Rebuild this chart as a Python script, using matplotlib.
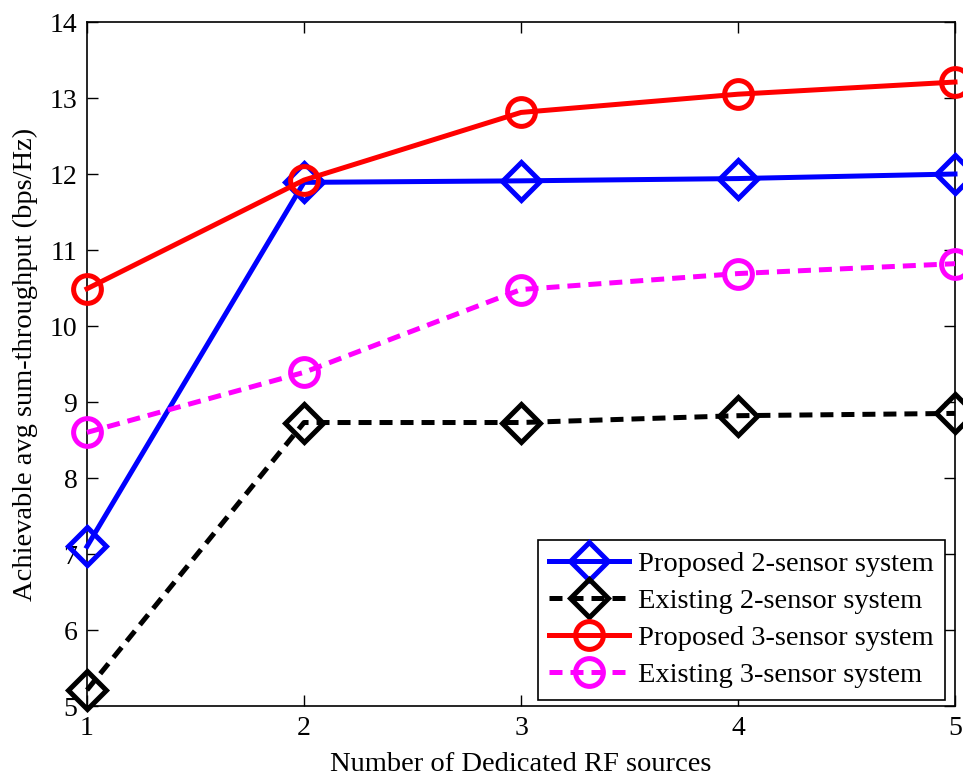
import matplotlib
matplotlib.use("Agg")
import matplotlib.pyplot as plt

plt.rcParams['font.family'] = ['Liberation Serif', 'DejaVu Serif']

x = [1, 2, 3, 4, 5]
proposed_2 = [7.10, 11.89, 11.91, 11.94, 12.00]
existing_2 = [5.21, 8.73, 8.73, 8.82, 8.85]
proposed_3 = [10.49, 11.92, 12.81, 13.05, 13.21]
existing_3 = [8.60, 9.39, 10.48, 10.69, 10.82]

labels = ["Proposed 2-sensor system", "Existing 2-sensor system",
          "Proposed 3-sensor system", "Existing 3-sensor system"]

fig = plt.figure(figsize=(9.63, 7.79), dpi=100)
ax = fig.add_axes([87 / 963, 1 - 706 / 779, (955 - 87) / 963, (706 - 22) / 779])

common = dict(linewidth=3.6, markeredgewidth=3.6, markerfacecolor='none',
              clip_on=False, zorder=3)
dash = (0, (2.6, 1.6))
ax.plot(x, proposed_2, color='#0000ff', marker='D', markersize=19,
        linestyle='-', label=labels[0], **common)
ax.plot(x, existing_2, color='black', marker='D', markersize=19,
        linestyle=dash, label=labels[1], **common)
ax.plot(x, proposed_3, color='#ff0000', marker='o', markersize=20,
        linestyle='-', label=labels[2], **common)
ax.plot(x, existing_3, color='#ff00ff', marker='o', markersize=20,
        linestyle=dash, label=labels[3], **common)

ax.set_xlim(1, 5)
ax.set_ylim(5, 14)
ax.set_xticks(x)
ax.set_yticks(range(5, 15))
ax.tick_params(direction='in', top=True, right=True, length=8, width=1,
               labelsize=20, pad=7)
for s in ax.spines.values():
    s.set_linewidth(1.2)

ax.set_xlabel("Number of Dedicated RF sources", fontsize=20.5, labelpad=8)
ax.set_ylabel("Achievable avg sum-throughput (bps/Hz)", fontsize=20.5, labelpad=8)

leg = ax.legend(loc='lower right', fontsize=20.5, frameon=True, fancybox=False,
                edgecolor='black', framealpha=1, handlelength=2.8,
                borderpad=0.4, labelspacing=0.39, handletextpad=0.32,
                borderaxespad=0, bbox_to_anchor=(0.9885, 0.009))
leg.get_frame().set_linewidth(1.2)

fig.savefig("out.png", dpi=100)
